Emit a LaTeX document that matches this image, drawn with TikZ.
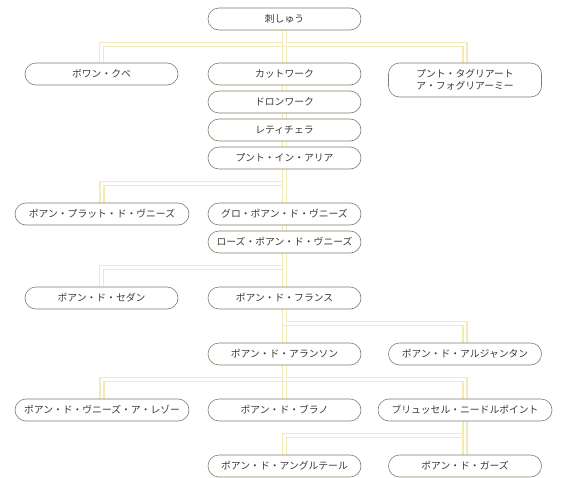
\documentclass[tikz,border=0pt]{standalone}
\usepackage{fontspec}
\newfontfamily\jp{Noto Sans CJK JP}
\usepackage{tikz}
\usetikzlibrary{positioning, backgrounds}

\definecolor{boxline}{HTML}{7F7D6A}
\definecolor{linkyel}{HTML}{F2EBB8}
\definecolor{textgray}{HTML}{3A3A3A}

\tikzset{
    lace/.style={draw=boxline, line width=0.6pt, fill=white, rounded corners=11pt,
        minimum width=153pt, minimum height=22pt, inner sep=0pt, text=textgray,
        font=\jp\fontsize{9.8}{12}\selectfont},
    widelace/.style={lace, minimum width=174pt},
    link/.style={draw=linkyel, line width=1.4pt, double=white, double distance=2.4pt}
}

\begin{document}
\begin{tikzpicture}[x=1pt, y=-1pt]
    \useasboundingbox (0,0) rectangle (569,477);

    % Lace nodes
    \node[lace] (root) at (284.5,19) {刺しゅう};

    \node[lace] (bouwan) at (101.5,74) {ボワン・クベ};
    \node[lace] (cutwork) at (284.5,74) {カットワーク};
    \node[lace, minimum height=34pt, align=center] (tagliato) at (465,80) {プント・タグリアート\\ア・フォグリアーミー};
    \node[lace] (drawn) at (284.5,102) {ドロンワーク};
    \node[lace] (reti) at (284.5,130) {レティチェラ};
    \node[lace] (punto) at (284.5,158) {プント・イン・アリア};

    \node[widelace] (plat) at (102,214) {ポアン・プラット・ド・ヴニーズ};
    \node[lace] (gros) at (284.5,214) {グロ・ポアン・ド・ヴニーズ};
    \node[lace] (rose) at (284.5,242) {ローズ・ポアン・ド・ヴニーズ};

    \node[lace] (sedan) at (101.5,298) {ポアン・ド・セダン};
    \node[lace] (france) at (284.5,298) {ポアン・ド・フランス};

    \node[lace] (alencon) at (284.5,354) {ポアン・ド・アランソン};
    \node[lace] (argentan) at (465,354) {ポアン・ド・アルジャンタン};

    \node[widelace] (reseau) at (102,410) {ポアン・ド・ヴニーズ・ア・レゾー};
    \node[lace] (burano) at (284.5,410) {ポアン・ド・ブラノ};
    \node[widelace] (brussels) at (465,410) {ブリュッセル・ニードルポイント};

    \node[lace] (angleterre) at (284.5,466) {ポアン・ド・アングルテール};
    \node[lace] (gaze) at (465,466) {ポアン・ド・ガーズ};

    % Connectors behind the nodes
    \begin{scope}[on background layer]
        \fill[white] (0,0) rectangle (569,477);
        \foreach \from/\to in {root/bouwan, root/cutwork, root/tagliato,
                               punto/plat, punto/gros, rose/sedan, rose/france,
                               france/alencon, france/argentan,
                               alencon/reseau, alencon/burano, alencon/brussels,
                               brussels/angleterre, brussels/gaze}
            \draw[link] (\from.south) -- ++(0,14) -| (\to.north);
        \foreach \from/\to in {cutwork/drawn, drawn/reti, reti/punto, gros/rose}
            \draw[link] (\from.south) -- (\to.north);
    \end{scope}
\end{tikzpicture}
\end{document}
